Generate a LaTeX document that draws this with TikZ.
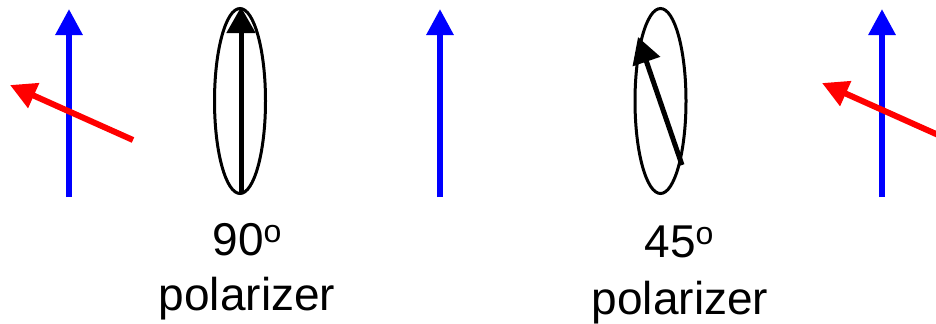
\documentclass[tikz,border=0pt]{standalone}
\usepackage{fontspec}
\setmainfont{Liberation Sans}
\usetikzlibrary{arrows.meta, shapes.geometric}

\newcommand{\degsup}{\raisebox{6.5pt}{\fontsize{16}{16}\selectfont o}}

\begin{document}
\begin{tikzpicture}[
  x=0.5pt, y=-0.5pt,
  field/.style={line width=3pt, -{Triangle[length=13pt, width=13pt]}},
  efield/.style={field, blue},
  tilted/.style={field, red},
  passaxis/.style={line width=2.5pt, -{Triangle[length=13pt, width=14pt]}},
  polarizer/.style={ellipse, draw, line width=1.5pt, minimum width=25.5pt, minimum height=92.5pt, inner sep=0pt},
  caption/.style={font=\fontsize{23}{27}\selectfont, anchor=base, inner sep=0pt}
]

\useasboundingbox (0,0) rectangle (936,323);
\clip (0,0) rectangle (936,323);

% Field vectors
\coordinate (b1tail) at (69,197);
\coordinate (b1tip) at (69,9);
\coordinate (r1tail) at (133,140);
\coordinate (r1tip) at (10,85);
\coordinate (b2tail) at (440,197);
\coordinate (b2tip) at (440,9);
\coordinate (b3tail) at (882,197);
\coordinate (b3tip) at (882,9);
\coordinate (r3tail) at (945,138);
\coordinate (r3tip) at (822,83);

\draw[efield] (b1tail) -- (b1tip);
\draw[tilted] (r1tail) -- (r1tip);
\draw[efield] (b2tail) -- (b2tip);
\draw[efield] (b3tail) -- (b3tip);
\draw[tilted] (r3tail) -- (r3tip);

% Polarizers
\node[polarizer] (pol90) at (240,101) {};
\node[polarizer] (pol45) at (660.5,101) {};

% Transmission axes
\coordinate (a1tail) at (241,193);
\coordinate (a1tip) at (241,7);
\coordinate (a2tail) at (682,165);
\coordinate (a2tip) at (638,37);
\draw[passaxis] (a1tail) -- (a1tip);
\draw[passaxis] (a2tail) -- (a2tip);

% Labels
\node[caption] (ang90) at (247,255) {90\degsup};
\node[caption] (name90) at (247,310) {polarizer};
\node[caption] (ang45) at (679,257) {45\degsup};
\node[caption] (name45) at (680,314) {polarizer};

\end{tikzpicture}
\end{document}
